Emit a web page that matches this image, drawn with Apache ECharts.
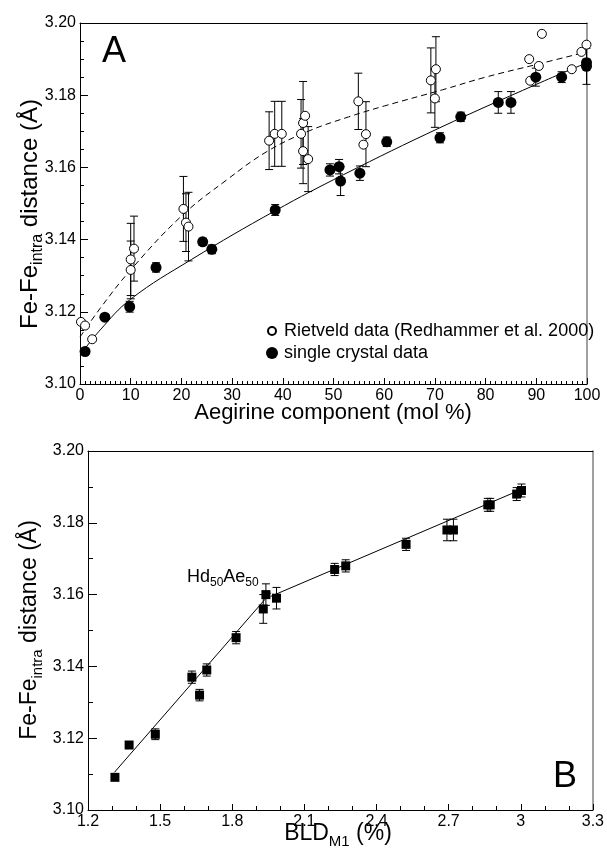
<!DOCTYPE html>
<html><head><meta charset="utf-8">
<script src="https://cdn.jsdelivr.net/npm/echarts@6/dist/echarts.min.js"></script>
<style>html,body{margin:0;padding:0;background:#fff}#c{width:607px;height:850px}</style>
</head><body><div id="c"></div>
<script>
const FONT = '"Liberation Sans", Arial, Helvetica, sans-serif';

// ---------- Panel A data ----------
const aRietX   = [0.2, 1.0, 2.4, 10.0, 10.0, 10.65, 20.4, 20.9, 21.4, 37.3, 38.4, 39.8, 43.6, 44.0, 44.0, 44.4, 45.0, 54.9, 55.9, 56.4, 69.2, 70.0, 70.2, 88.6, 88.8, 90.5, 91.1, 97.0, 98.9, 99.9];
const aRietY   = [3.1172, 3.1162, 3.1124, 3.1345, 3.1316, 3.1375, 3.1485, 3.1447, 3.1436, 3.1674, 3.1693, 3.1693, 3.1693, 3.1723, 3.1645, 3.1743, 3.1623, 3.1783, 3.1663, 3.1692, 3.1841, 3.1791, 3.1872, 3.1900, 3.1840, 3.1881, 3.1970, 3.1872, 3.1920, 3.1940];
const aRietErr = [0, 0, 0, 0.0100, 0.0080, 0.0090, 0.0090, 0.0080, 0.0095, 0.0080, 0.0090, 0.0090, 0.0095, 0.0115, 0.0090, 0, 0.0090, 0.0078, 0, 0.0090, 0.0090, 0.0080, 0.0090, 0, 0, 0, 0, 0, 0, 0];

const aScX   = [1.0, 4.9, 9.8, 15.0, 24.2, 26.0, 38.5, 49.3, 51.1, 51.4, 55.2, 60.5, 71.0, 75.1, 82.5, 85.0, 89.9, 95.0, 99.9, 99.9];
const aScY   = [3.1090, 3.1185, 3.1214, 3.1323, 3.1394, 3.1373, 3.1482, 3.1593, 3.1602, 3.1562, 3.1584, 3.1671, 3.1682, 3.1740, 3.1780, 3.1780, 3.1850, 3.1850, 3.1890, 3.1880];
const aScErr = [0, 0, 0.0015, 0.0013, 0.0010, 0.0012, 0.0015, 0.0017, 0.0020, 0.0040, 0.0020, 0.0013, 0.0014, 0.0013, 0.0030, 0.0030, 0.0025, 0.0015, 0.0010, 0.0050];

const aFitRietX = [0, 4, 10, 20, 29, 37, 45, 53, 60, 71.5, 80, 90, 100];
const aFitRietY = [3.1130, 3.1210, 3.1316, 3.1465, 3.1566, 3.1645, 3.1700, 3.1740, 3.1770, 3.1815, 3.1850, 3.1885, 3.1920];
const aFitScX = [0, 4, 10, 22, 38.5, 52, 71, 90, 100];
const aFitScY = [3.1080, 3.1150, 3.1235, 3.1345, 3.1480, 3.1580, 3.1710, 3.1830, 3.1890];

const aLegend = ['Rietveld data (Redhammer et al. 2000)', 'single crystal data'];

// ---------- Panel B data ----------
const bX   = [1.312, 1.371, 1.480, 1.632, 1.664, 1.694, 1.816, 1.929, 1.940, 1.984, 2.226, 2.272, 2.523, 2.693, 2.720, 2.863, 2.873, 2.983, 3.003];
const bY   = [3.1091, 3.1181, 3.1211, 3.1370, 3.1320, 3.1390, 3.1480, 3.1560, 3.1600, 3.1590, 3.1670, 3.1680, 3.1740, 3.1780, 3.1780, 3.1850, 3.1850, 3.1880, 3.1890];
const bErr = [0, 0, 0.0015, 0.0017, 0.0016, 0.0017, 0.0017, 0.0040, 0.0030, 0.0030, 0.0017, 0.0017, 0.0017, 0.0030, 0.0030, 0.0018, 0.0018, 0.0018, 0.0018];
const bFit1X = [1.31, 1.96];
const bFit1Y = [3.1105, 3.1605];
const bFit2X = [1.96, 3.003];
const bFit2Y = [3.1595, 3.1893];

const pairs = (xs, ys) => xs.map((x, i) => [x, ys[i]]);

function errSeries(xs, ys, es, xi, yi, cap) {
  const data = [];
  xs.forEach((x, i) => { if (es[i] > 0) data.push([x, ys[i] - es[i], ys[i] + es[i]]); });
  return {
    type: 'custom', xAxisIndex: xi, yAxisIndex: yi, data, z: 2, silent: true,
    encode: { x: 0, y: [1, 2] },
    renderItem(params, api) {
      const lo = api.coord([api.value(0), api.value(1)]);
      const hi = api.coord([api.value(0), api.value(2)]);
      const st = { stroke: '#000', lineWidth: 1 };
      return { type: 'group', children: [
        { type: 'line', shape: { x1: lo[0], y1: lo[1], x2: hi[0], y2: hi[1] }, style: st },
        { type: 'line', shape: { x1: lo[0] - cap, y1: lo[1], x2: lo[0] + cap, y2: lo[1] }, style: st },
        { type: 'line', shape: { x1: hi[0] - cap, y1: hi[1], x2: hi[0] + cap, y2: hi[1] }, style: st }
      ]};
    }
  };
}

const lab = { fontFamily: FONT, fontSize: 16, color: '#000' };
const blackLine = { lineStyle: { color: '#000', width: 1 } };
const greyLine = { lineStyle: { color: '#808080', width: 1.5 } };

function baseX(grid, min, max, interval, minorSplit, majLen, minLen, fmt) {
  return { type: 'value', gridIndex: grid, min, max, interval, position: 'bottom',
    axisLine: { show: true, onZero: false, ...blackLine },
    axisTick: { show: true, inside: true, length: majLen, lineStyle: { color: '#000' } },
    minorTick: { show: true, splitNumber: minorSplit, length: minLen, lineStyle: { color: '#000' } },
    splitLine: { show: false },
    axisLabel: { ...lab, margin: 4, formatter: fmt } };
}
function baseY(grid, min, max, interval, minorSplit, majLen, minLen) {
  return { type: 'value', gridIndex: grid, min, max, interval, position: 'left',
    axisLine: { show: true, onZero: false, ...blackLine },
    axisTick: { show: true, inside: true, length: majLen, lineStyle: { color: '#000' } },
    minorTick: { show: true, splitNumber: minorSplit, length: minLen, lineStyle: { color: '#000' } },
    splitLine: { show: false },
    axisLabel: { ...lab, margin: 4, formatter: v => v.toFixed(2) } };
}
function frameX(grid, min, max) {
  return { type: 'value', gridIndex: grid, min, max, position: 'top',
    axisLine: { show: true, onZero: false, ...blackLine },
    axisTick: { show: false }, axisLabel: { show: false }, splitLine: { show: false } };
}
function frameY(grid, min, max) {
  return { type: 'value', gridIndex: grid, min, max, position: 'right',
    axisLine: { show: true, onZero: false, ...greyLine },
    axisTick: { show: false }, axisLabel: { show: false }, splitLine: { show: false } };
}

function titleRich(m, s) {
  return {
    m: { fontFamily: FONT, fontSize: m, color: '#000', lineHeight: Math.round(m * 1.34), verticalAlign: 'middle' },
    s: { fontFamily: FONT, fontSize: s, color: '#000', lineHeight: s + 1, verticalAlign: 'bottom' }
  };
}

const chart = echarts.init(document.getElementById('c'), null, { renderer: 'canvas' });
chart.setOption({
  animation: false,
  backgroundColor: '#fff',
  grid: [
    { left: 80, top: 23, width: 507, height: 361 },
    { left: 88, top: 451, width: 507, height: 359 }
  ],
  xAxis: [
    baseX(0, 0, 100, 10, 10, 6, 3, v => String(v)),
    frameX(0, 0, 100),
    baseX(1, 1.2, 3.3, 0.3, 3, 6, 4, v => String(+v.toFixed(1))),
    frameX(1, 1.2, 3.3)
  ],
  yAxis: [
    baseY(0, 3.10, 3.20, 0.02, 4, 8, 4),
    frameY(0, 3.10, 3.20),
    baseY(1, 3.10, 3.20, 0.02, 2, 9, 5),
    frameY(1, 3.10, 3.20)
  ],
  legend: [
    { data: [aLegend[0]], left: 262, top: 317, orient: 'vertical', itemWidth: 8, itemHeight: 8, itemGap: 0,
      textStyle: { fontFamily: FONT, fontSize: 18, color: '#000', padding: [0, 0, 0, 3] } },
    { data: [aLegend[1]], left: 261, top: 339, orient: 'vertical', itemWidth: 12, itemHeight: 12, itemGap: 0,
      textStyle: { fontFamily: FONT, fontSize: 18, color: '#000', padding: [0, 0, 0, 1] } }
  ],
  graphic: [
    { type: 'text', left: 102, top: 34, style: { text: 'A', fontFamily: FONT, fontSize: 36, fill: '#000' } },
    { type: 'text', left: 553, top: 759, style: { text: 'B', fontFamily: FONT, fontSize: 36, fill: '#000' } },
    { type: 'text', x: 333, y: 413, style: { text: 'Aegirine component (mol %)', fontFamily: FONT, fontSize: 22, fill: '#000', align: 'center', verticalAlign: 'middle' } },
    { type: 'text', x: 338, y: 834, style: { text: '{m|BLD}{s|M1}{m| (%)}', rich: titleRich(23, 15), align: 'center', verticalAlign: 'middle' } },
    { type: 'text', x: 30, y: 214, rotation: Math.PI / 2, style: { text: '{m|Fe-Fe}{s|intra}{m| distance (Å)}', rich: titleRich(24, 16), align: 'center', verticalAlign: 'middle' } },
    { type: 'text', x: 30, y: 630, rotation: Math.PI / 2, style: { text: '{m|Fe-Fe}{s|intra}{m| distance (Å)}', rich: titleRich(23, 15), align: 'center', verticalAlign: 'middle' } },
    { type: 'text', x: 187, y: 577, style: { text: '{m|Hd}{s|50}{m|Ae}{s|50}', align: 'left', verticalAlign: 'middle', rich: {
      m: { fontFamily: FONT, fontSize: 18, color: '#000', lineHeight: 24, verticalAlign: 'middle' },
      s: { fontFamily: FONT, fontSize: 12, color: '#000', lineHeight: 13, verticalAlign: 'bottom' } } } }
  ],
  series: [
    { type: 'line', xAxisIndex: 0, yAxisIndex: 0, data: pairs(aFitRietX, aFitRietY), smooth: 0.4, showSymbol: false, symbol: 'none', silent: true, z: 1,
      lineStyle: { color: '#000', width: 1, type: [6, 4] } },
    { type: 'line', xAxisIndex: 0, yAxisIndex: 0, data: pairs(aFitScX, aFitScY), smooth: 0.4, showSymbol: false, symbol: 'none', silent: true, z: 1,
      lineStyle: { color: '#000', width: 1 } },
    errSeries(aRietX, aRietY, aRietErr, 0, 0, 4),
    errSeries(aScX, aScY, aScErr, 0, 0, 4),
    { name: aLegend[0], type: 'scatter', xAxisIndex: 0, yAxisIndex: 0, data: pairs(aRietX, aRietY), symbol: 'circle', symbolSize: 9, z: 3,
      itemStyle: { color: '#fff', borderColor: '#000', borderWidth: 1, opacity: 1 } },
    { name: aLegend[1], type: 'scatter', xAxisIndex: 0, yAxisIndex: 0, data: pairs(aScX, aScY), symbol: 'circle', symbolSize: 11, z: 4,
      itemStyle: { color: '#000', opacity: 1 } },

    { type: 'line', xAxisIndex: 2, yAxisIndex: 2, data: pairs(bFit1X, bFit1Y), showSymbol: false, symbol: 'none', silent: true, z: 1,
      lineStyle: { color: '#000', width: 1 } },
    { type: 'line', xAxisIndex: 2, yAxisIndex: 2, data: pairs(bFit2X, bFit2Y), showSymbol: false, symbol: 'none', silent: true, z: 1,
      lineStyle: { color: '#000', width: 1 } },
    errSeries(bX, bY, bErr, 2, 2, 4),
    { type: 'scatter', xAxisIndex: 2, yAxisIndex: 2, data: pairs(bX, bY), symbol: 'rect', symbolSize: 9, z: 4,
      itemStyle: { color: '#000', opacity: 1 } }
  ]
});
</script>
</body></html>
